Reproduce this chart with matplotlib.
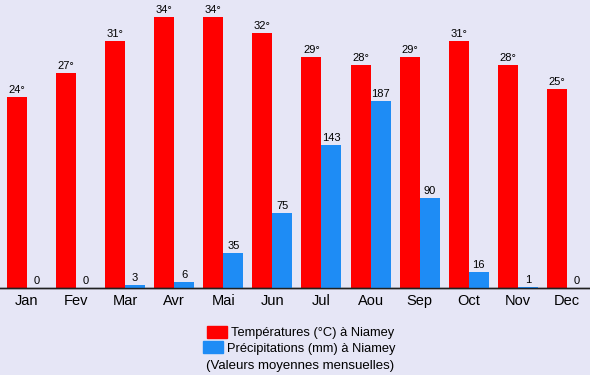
import numpy as np
import matplotlib.pyplot as plt
from matplotlib.patches import Rectangle

mois = ["Jan", "Fev", "Mar", "Avr", "Mai", "Jun", "Jul", "Aou", "Sep", "Oct", "Nov", "Dec"]
temperatures = [24, 27, 31, 34, 34, 32, 29, 28, 29, 31, 28, 25]
precipitations = [0, 0, 3, 6, 35, 75, 143, 187, 90, 16, 1, 0]

fond = "#E6E6F6"
rouge = "#FF0000"
bleu = "#1E8CF5"

fig = plt.figure(figsize=(5.9, 3.75), dpi=100, facecolor=fond)
# axe principal : de y=0 a y=288 px en partant du haut
ax = fig.add_axes([0, 87 / 375, 1, 288 / 375])
ax.set_facecolor(fond)
ax2 = ax.twinx()

x = np.arange(len(mois))
larg = 20 / 49.08
ax.bar(x - larg / 2, temperatures, width=larg, color=rouge)
ax2.bar(x + larg / 2, precipitations, width=larg, color=bleu)

ax.set_ylim(0, 288 / 7.97)
ax2.set_ylim(0, 288)
ax.set_xlim(-27 / 49.08, 563 / 49.08)

for i, t in enumerate(temperatures):
    ax.annotate(f"{t}°", (x[i] - larg / 2, t), xytext=(0, 1.5), textcoords="offset points",
                ha="center", va="bottom", fontsize=8, family="Liberation Sans")
for i, p in enumerate(precipitations):
    ax2.annotate(f"{p}", (x[i] + larg / 2, p), xytext=(0, 1.5), textcoords="offset points",
                 ha="center", va="bottom", fontsize=8, family="Liberation Sans")

ax.set_xticks(x)
ax.set_xticklabels(mois, fontsize=10.5, family="Liberation Sans")
ax.tick_params(axis="x", length=0, pad=4)
ax.set_yticks([])
ax2.set_yticks([])
for a in (ax, ax2):
    for s in ("top", "left", "right"):
        a.spines[s].set_visible(False)
    a.spines["bottom"].set_color("#202020")
    a.spines["bottom"].set_linewidth(1)

# legende
W, H = 590, 375
fig.patches.append(Rectangle((207 / W, 1 - 338 / H), 20 / W, 12 / H, transform=fig.transFigure,
                             color=rouge, zorder=3))
fig.patches.append(Rectangle((203 / W, 1 - 353 / H), 20 / W, 12 / H, transform=fig.transFigure,
                             color=bleu, zorder=3))
fig.text(231 / W, 1 - 333 / H, "Températures (°C) à Niamey", fontsize=9.3, va="center",
         family="Liberation Sans")
fig.text(227 / W, 1 - 349 / H, "Précipitations (mm) à Niamey", fontsize=9.3, va="center",
         family="Liberation Sans")
fig.text(300 / W, 1 - 366 / H, "(Valeurs moyennes mensuelles)", fontsize=9.5, va="center",
         ha="center", family="Liberation Sans")

fig.savefig("out.png", dpi=100, facecolor=fond)
